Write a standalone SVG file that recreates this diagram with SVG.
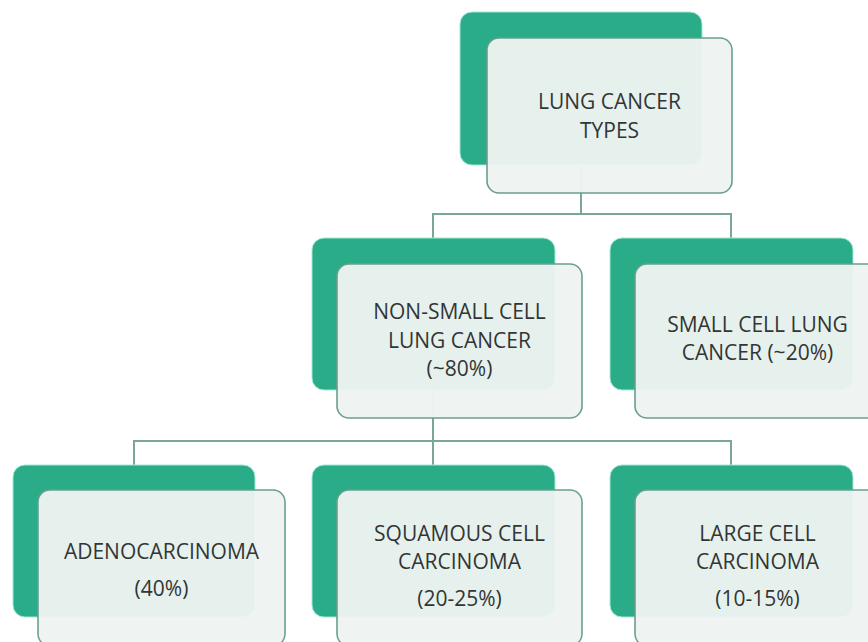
<svg xmlns="http://www.w3.org/2000/svg" width="868" height="642" viewBox="0 0 868 642">
<style>
.back{fill:#29ac87;stroke:#9fe9d6;stroke-width:1}
.front{fill:#eef4f3;fill-opacity:0.96;stroke:#6a9f90;stroke-width:1.6}
.lbl{font-family:"Open Sans","Noto Sans",sans-serif;font-size:21px;fill:#333535;text-anchor:middle}
.conn{fill:none;stroke:#7aa69a;stroke-width:2}
</style>
<rect width="868" height="642" fill="#ffffff"/>
<g id="connectors">
<path class="conn" d="M581 165 V214 M433 238 V214 H731 V238"/>
<path class="conn" d="M433 390 V441 M134 465 V441 H731 V465 M433 441 V465"/>
</g>
<g id="node-root">
<rect class="back" x="460" y="12" width="242" height="153" rx="12"/>
<rect class="front" x="487" y="38" width="245" height="155" rx="12"/>
<text class="lbl" x="609.5" y="109">LUNG CANCER</text>
<text class="lbl" x="609.5" y="138">TYPES</text>
</g>
<g id="node-nsclc">
<rect class="back" x="312" y="238" width="243" height="152" rx="12"/>
<rect class="front" x="337" y="264" width="245" height="154" rx="12"/>
<text class="lbl" x="459.5" y="319">NON-SMALL CELL</text>
<text class="lbl" x="459.5" y="348">LUNG CANCER</text>
<text class="lbl" x="459.5" y="376">(~80%)</text>
</g>
<g id="node-sclc">
<rect class="back" x="610" y="238" width="243" height="152" rx="12"/>
<rect class="front" x="635" y="264" width="245" height="154" rx="12"/>
<text class="lbl" x="757.5" y="332">SMALL CELL LUNG</text>
<text class="lbl" x="757.5" y="360">CANCER (~20%)</text>
</g>
<g id="node-adeno">
<rect class="back" x="13" y="465" width="242" height="152" rx="12"/>
<rect class="front" x="38" y="490" width="247" height="156" rx="12"/>
<text class="lbl" x="161.5" y="559">ADENOCARCINOMA</text>
<text class="lbl" x="161.5" y="596">(40%)</text>
</g>
<g id="node-squamous">
<rect class="back" x="312" y="465" width="243" height="152" rx="12"/>
<rect class="front" x="337" y="490" width="245" height="156" rx="12"/>
<text class="lbl" x="459.5" y="541">SQUAMOUS CELL</text>
<text class="lbl" x="459.5" y="569">CARCINOMA</text>
<text class="lbl" x="459.5" y="606">(20-25%)</text>
</g>
<g id="node-large">
<rect class="back" x="610" y="465" width="243" height="152" rx="12"/>
<rect class="front" x="635" y="490" width="245" height="156" rx="12"/>
<text class="lbl" x="757.5" y="541">LARGE CELL</text>
<text class="lbl" x="757.5" y="569">CARCINOMA</text>
<text class="lbl" x="757.5" y="606">(10-15%)</text>
</g>
</svg>
